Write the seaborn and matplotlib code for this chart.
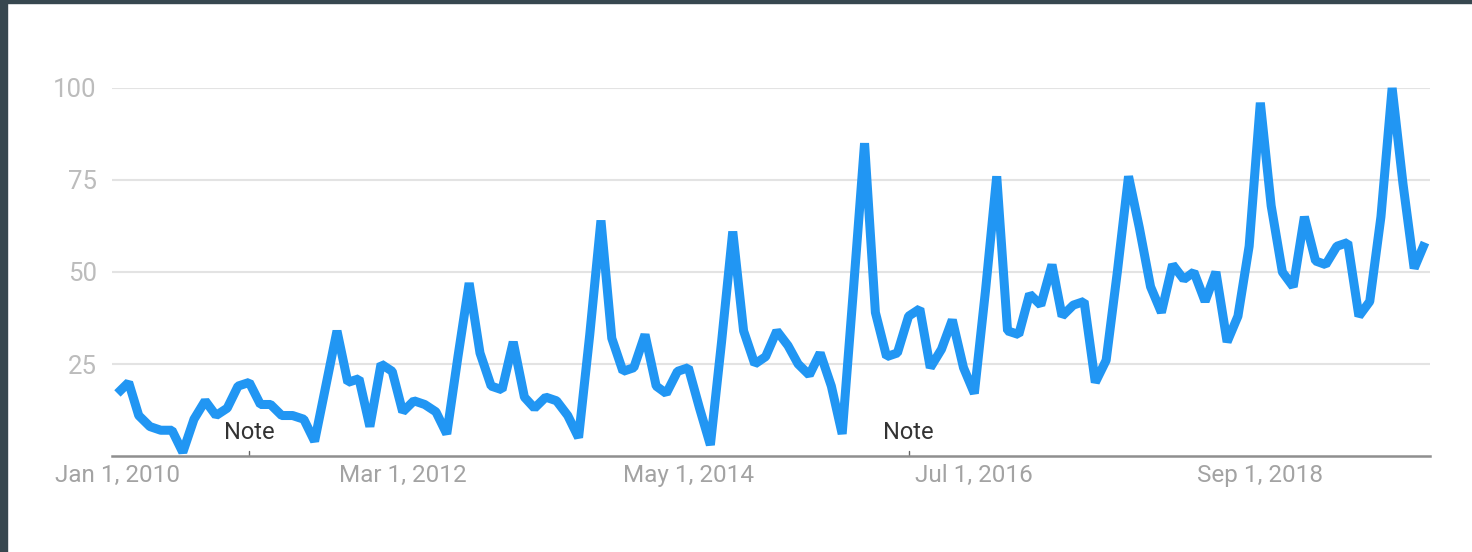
import pandas as pd
import seaborn as sns
import matplotlib
matplotlib.use('Agg')
import matplotlib.pyplot as plt
from matplotlib.patches import Rectangle


# monthly interest, Jan 2010 .. Dec 2019
interest_2010 = [17, 20, 11, 8, 7, 7, 1, 10, 15, 11, 13, 19]
interest_2011 = [20, 14, 14, 11, 11, 10, 4, 19, 34, 20, 21, 8]
interest_2012 = [25, 23, 12, 15, 14, 12, 6, 27, 47, 28, 19, 18]
interest_2013 = [31, 16, 13, 16, 15, 11, 5, 33, 64, 32, 23, 24]
interest_2014 = [33, 19, 17, 23, 24, 13, 3, 31, 61, 34, 25, 27]
interest_2015 = [34, 30, 25, 22, 28, 19, 6, 45, 85, 39, 27, 28]
interest_2016 = [38, 40, 24, 29, 37, 24, 17, 45, 76, 34, 33, 44]
interest_2017 = [41, 52, 38, 41, 42, 20, 26, 50, 76, 62, 46, 39]
interest_2018 = [52, 48, 50, 42, 50, 31, 38, 57, 96, 68, 50, 46]
interest_2019 = [65, 53, 52, 57, 58, 38, 42, 65, 100, 74, 51, 58]

tick_dates = ['2010-01-01', '2012-03-01', '2014-05-01', '2016-07-01', '2018-09-01']
tick_labels = ['Jan 1, 2010', 'Mar 1, 2012', 'May 1, 2014', 'Jul 1, 2016', 'Sep 1, 2018']
y_ticks = [25, 50, 75, 100]
note_dates = ['2011-01-01', '2016-01-01']

values = (interest_2010 + interest_2011 + interest_2012 + interest_2013 + interest_2014
          + interest_2015 + interest_2016 + interest_2017 + interest_2018 + interest_2019)
df = pd.DataFrame({
    'Month': pd.date_range('2010-01-01', periods=len(values), freq='MS'),
    'Interest': values,
})

sns.set_style('white')
plt.rcParams['font.family'] = ['Roboto', 'DejaVu Sans']

fig = plt.figure(figsize=(14.72, 5.52), dpi=100)
ax = fig.add_axes([0.0761, 0.1739, 0.8954, 0.6667])

sns.lineplot(x='Month', y='Interest', data=df, ax=ax, color='#2196f3',
             linewidth=6.5, solid_joinstyle='bevel', solid_capstyle='butt',
             clip_on=False, zorder=3)

ax.set_ylim(0, 100)
ax.set_xlim(pd.Timestamp('2009-12-17'), pd.Timestamp('2019-12-15'))
ax.set_yticks(y_ticks)
ax.set_xticks(pd.to_datetime(tick_dates))
ax.set_xticklabels(tick_labels)
ax.yaxis.grid(True, color='#e3e3e3', linewidth=1.5)
ax.set_axisbelow(True)
ax.set_xlabel('')
ax.set_ylabel('')

for side in ['top', 'right', 'left']:
    ax.spines[side].set_visible(False)
ax.spines['bottom'].set_color('#8f8f8f')
ax.spines['bottom'].set_linewidth(1.8)

ax.tick_params(axis='x', length=0, pad=6, labelsize=17.5, labelcolor='#a3a3a3')
ax.tick_params(axis='y', length=0, pad=11, labelsize=18.5, labelcolor='#bcbcbc')

# annotation markers
for d in pd.to_datetime(note_dates):
    ax.plot([d, d], [0, 1.4], color='#666666', linewidth=1, zorder=2)
    ax.text(d, 6.5, 'Note', ha='center', va='center', fontsize=17, color='#333333')

# dark frame on the left and top edges
fig.add_artist(Rectangle((0, 0), 7 / 1472, 1, transform=fig.transFigure,
                         color='#37474f', zorder=10))
fig.add_artist(Rectangle((0, 1 - 3 / 552), 1, 3 / 552, transform=fig.transFigure,
                         color='#37474f', zorder=10))

fig.savefig('out.png', dpi=100, facecolor='white')
